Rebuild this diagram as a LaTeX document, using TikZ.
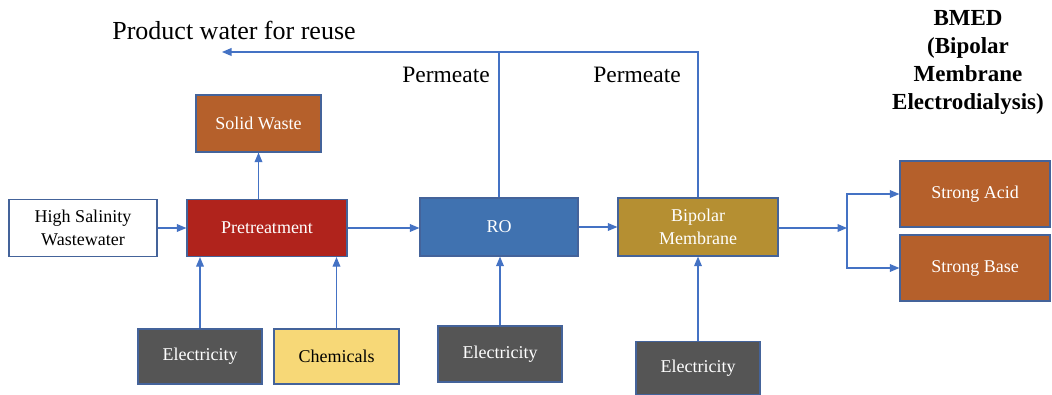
\documentclass[tikz,border=0pt]{standalone}
\usepackage{fontspec}
\setmainfont{Liberation Serif}
\usetikzlibrary{arrows}

\definecolor{flowblue}{HTML}{4472C4}
\definecolor{edgeblue}{HTML}{44639A}
\definecolor{wasteorange}{HTML}{B5602B}
\definecolor{pretred}{HTML}{B0231C}
\definecolor{roblue}{HTML}{4072B0}
\definecolor{bipgold}{HTML}{B58F32}
\definecolor{powergrey}{HTML}{555555}
\definecolor{chemyellow}{HTML}{F7D877}

\tikzset{
  unit/.style={draw=edgeblue, line width=1.3pt, align=center, inner sep=2pt,
    font=\fontsize{18}{23}\selectfont, text=white},
  feed/.style={unit, fill=white, text=black},
  power/.style={unit, fill=powergrey, minimum width=124pt},
  flow/.style={draw=flowblue, line width=1.2pt},
  label/.style={font=\fontsize{23.5}{28}\selectfont}
}

\begin{document}
\begin{tikzpicture}[x=1pt, y=-1pt]
    \useasboundingbox (0,0) rectangle (1052,395);

    % main line
    \node[feed, minimum width=148pt, minimum height=57pt] (hsw) at (83,228) {High Salinity\\Wastewater};
    \node[unit, fill=pretred, minimum width=160pt, minimum height=57pt] (pre) at (267,228) {Pretreatment};
    \node[unit, fill=wasteorange, minimum width=125pt, minimum height=57pt] (solid) at (258.5,123.5) {Solid Waste};
    \node[unit, fill=roblue, minimum width=158pt, minimum height=58pt] (ro) at (499,227) {RO};
    \node[unit, fill=bipgold, minimum width=160pt, minimum height=58pt] (bip) at (698,227) {Bipolar\\Membrane};
    \node[unit, fill=wasteorange, minimum width=150pt, minimum height=66pt] (acid) at (975,194) {Strong Acid};
    \node[unit, fill=wasteorange, minimum width=150pt, minimum height=66pt] (base) at (975,268) {Strong Base};

    % inputs
    \node[power, minimum height=55pt] (elec1) at (200,356.5) {Electricity};
    \node[feed, fill=chemyellow, minimum width=125pt, minimum height=55pt] (chem) at (336.5,356.5) {Chemicals};
    \node[power, minimum height=56pt] (elec2) at (500,354) {Electricity};
    \node[power, minimum height=53pt] (elec3) at (698,368) {Electricity};

    % labels
    \node[font=\fontsize{26}{30}\selectfont] (reusetext) at (234,30) {Product water for reuse};
    \node[label] (perm1) at (446,75) {Permeate};
    \node[label] (perm2) at (637,75) {Permeate};
    \node[label, font=\fontsize{23}{28}\bfseries, align=center] (bmed) at (968,62) {BMED\\(Bipolar\\Membrane\\Electrodialysis)};

    \coordinate (reuse) at (222,52);
    \coordinate (split) at (847,228);

    \draw[flow, -triangle 45] (hsw) -- (pre);
    \draw[flow, -triangle 45] (pre.east) -- (pre.east -| ro.west);
    \draw[flow, -triangle 45] (ro) -- (bip);
    \draw[flow, -triangle 45] (solid.south |- pre.north) -- (solid.south);
    \draw[flow, -triangle 45] (elec1.north) -- (elec1.north |- pre.south);
    \draw[flow, -triangle 45] (chem.north) -- (chem.north |- pre.south);
    \draw[flow, -triangle 45] (elec2.north) -- (elec2.north |- ro.south);
    \draw[flow, -triangle 45] (elec3.north) -- (bip.south);
    \draw[flow, -triangle 45] (bip.north) |- (reuse);
    \draw[flow] (ro.north) -- (ro.north |- reuse);
    \draw[flow, -triangle 45] (bip.east |- split) -- (split);
    \draw[flow, -triangle 45] (split) |- (acid.west);
    \draw[flow, -triangle 45] (split) |- (base.west);
\end{tikzpicture}
\end{document}
